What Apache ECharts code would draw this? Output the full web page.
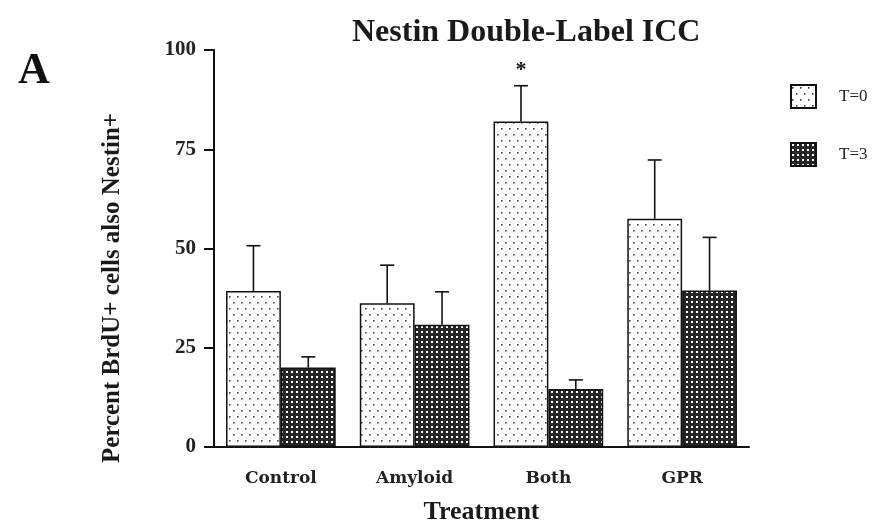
<!DOCTYPE html>
<html>
<head>
<meta charset="utf-8">
<script src="https://cdn.jsdelivr.net/npm/echarts@6/dist/echarts.min.js"></script>
<style>
    body { margin: 0; background: #fff; overflow: hidden; }
    #chart { width: 876px; height: 525px; }
</style>
</head>
<body>
<div id="chart"></div>
<script>
// data
const categories = ['Control', 'Amyloid', 'Both', 'GPR'];
const t0Mean = [39.3, 36.2, 82.0, 57.5];
const t0Err = [11.4, 9.6, 9.0, 14.8];
const t3Mean = [20.0, 30.8, 14.6, 39.4];
const t3Err = [2.7, 8.3, 2.3, 13.4];
const sigMarks = ['', '', '*', ''];
const yTicks = [0, 25, 50, 75, 100];

const serif = '"Liberation Serif", "DejaVu Serif", serif';
const catGap = 0.18;

// dotted fills like the old print
function makePattern(w, h, bg, dotColor, dots, size) {
    let c = document.createElement('canvas');
    c.width = w;
    c.height = h;
    let ctx = c.getContext('2d');
    ctx.fillStyle = bg;
    ctx.fillRect(0, 0, w, h);
    ctx.fillStyle = dotColor;
    for (let i = 0; i < dots.length; i++) {
        ctx.fillRect(dots[i][0], dots[i][1], size, size);
    }
    return c;
}
const lightFill = makePattern(8, 12, '#ffffff', '#444444', [[1, 2], [5, 8]], 1.6);
const darkFill = makePattern(5, 5, '#262626', '#ffffff', [[1, 1]], 2);

function errorBars(side) {
    //side -1 left bar, 1 right bar
    return function (params, api) {
        let x = api.value(0);
        let mean = api.value(1);
        let err = api.value(2);
        let mark = side < 0 ? sigMarks[x] : '';
        let band = api.size([1, 0])[0];
        let barW = band * (1 - catGap) / 2;
        let base = api.coord([x, mean]);
        let top = api.coord([x, mean + err]);
        let cx = base[0] + side * barW / 2;
        let style = { stroke: '#111', lineWidth: 1.6 };
        let children = [
            { type: 'line', shape: { x1: cx, y1: base[1], x2: cx, y2: top[1] }, style: style },
            { type: 'line', shape: { x1: cx - 7, y1: top[1], x2: cx + 7, y2: top[1] }, style: style },
        ];
        if (mark) {
            children.push({
                type: 'text',
                style: {
                    text: mark, x: cx, y: top[1] - 15,
                    align: 'center', verticalAlign: 'middle',
                    font: 'bold 22px ' + serif, fill: '#111',
                },
            });
        }
        return { type: 'group', children: children };
    };
}

function toRows(mean, err) {
    let rows = [];
    for (let i = 0; i < mean.length; i++) {
        rows.push([i, mean[i], err[i]]);
    }
    return rows;
}

let chart = echarts.init(document.getElementById('chart'));
let option = {
    animation: false,
    title: {
        text: 'Nestin Double-Label ICC',
        left: 347,
        top: 12,
        textStyle: { fontFamily: serif, fontWeight: 'bold', fontSize: 32, color: '#1a1a1a' },
    },
    graphic: [
        {
            type: 'text', left: 18, top: 50,
            style: { text: 'A', font: 'bold 44px ' + serif, fill: '#111' },
        },
        {
            type: 'text', x: 113, y: 288, rotation: Math.PI / 2,
            style: {
                text: 'Percent BrdU+ cells also Nestin+',
                font: 'bold 25px ' + serif, fill: '#1a1a1a',
                align: 'center', verticalAlign: 'middle',
            },
        },
    ],
    legend: {
        data: ['T=0', 'T=3'],
        orient: 'vertical',
        left: 785,
        top: 79,
        itemWidth: 25,
        itemHeight: 23,
        itemGap: 33,
        icon: 'rect',
        textStyle: { fontFamily: serif, fontSize: 17, color: '#222', padding: [0, 0, 0, 18] },
    },
    grid: { left: 214, right: 127, top: 50, bottom: 78, outerBoundsMode: 'none' },
    xAxis: {
        type: 'category',
        data: categories,
        name: 'Treatment',
        nameLocation: 'middle',
        nameGap: 52,
        nameTextStyle: { fontFamily: serif, fontWeight: 'bold', fontSize: 26, color: '#1a1a1a' },
        axisLine: { lineStyle: { color: '#111', width: 2 } },
        axisTick: { alignWithLabel: true, length: 10, lineStyle: { color: '#111', width: 2 } },
        axisLabel: { fontFamily: '"DejaVu Serif", serif', fontWeight: 'bold', fontSize: 17, color: '#222', margin: 23 },
    },
    yAxis: {
        type: 'value',
        min: 0,
        max: 100,
        interval: 25,
        axisLine: { show: true, lineStyle: { color: '#111', width: 2 } },
        axisTick: { show: true, length: 10, lineStyle: { color: '#111', width: 2 } },
        axisLabel: {
            fontFamily: serif, fontWeight: 'bold', fontSize: 21, color: '#222', margin: 18,
            formatter: function (v) { return yTicks.indexOf(v) >= 0 ? String(v) : ''; },
        },
        splitLine: { show: false },
    },
    series: [
        {
            name: 'T=0',
            type: 'bar',
            data: t0Mean,
            barGap: '0%',
            barCategoryGap: '18%',
            itemStyle: { color: { image: lightFill, repeat: 'repeat' }, borderColor: '#111', borderWidth: 1.5 },
        },
        {
            name: 'T=3',
            type: 'bar',
            data: t3Mean,
            itemStyle: { color: { image: darkFill, repeat: 'repeat' }, borderColor: '#111', borderWidth: 1.5 },
        },
        {
            name: 'T=0 err',
            type: 'custom',
            data: toRows(t0Mean, t0Err),
            renderItem: errorBars(-1),
            z: 3,
        },
        {
            name: 'T=3 err',
            type: 'custom',
            data: toRows(t3Mean, t3Err),
            renderItem: errorBars(1),
            z: 3,
        },
    ],
};
chart.setOption(option);
</script>
</body>
</html>
